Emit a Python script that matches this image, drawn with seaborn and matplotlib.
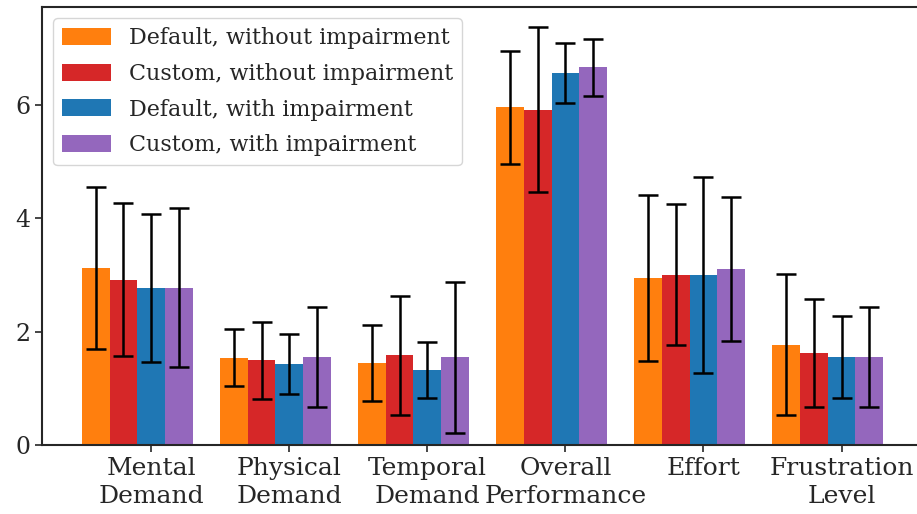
import numpy as np
import pandas as pd
import matplotlib
matplotlib.use("Agg")
import matplotlib.pyplot as plt
import seaborn as sns

# NASA-TLX subscales and study conditions
categories = ["Mental\nDemand", "Physical\nDemand", "Temporal\nDemand",
              "Overall\nPerformance", "Effort", "Frustration\nLevel"]
series = ["Default, without impairment", "Custom, without impairment",
          "Default, with impairment", "Custom, with impairment"]
colors = ["#ff7f0e", "#d62728", "#1f77b4", "#9467bd"]

# mean ratings per condition
mean_default_without = [3.12, 1.54, 1.45, 5.95, 2.94, 1.77]
mean_custom_without = [2.91, 1.49, 1.58, 5.91, 3.00, 1.62]
mean_default_with = [2.77, 1.43, 1.32, 6.55, 3.00, 1.55]
mean_custom_with = [2.77, 1.55, 1.55, 6.66, 3.10, 1.55]

# standard deviations per condition
sd_default_without = [1.43, 0.50, 0.67, 1.00, 1.46, 1.24]
sd_custom_without = [1.35, 0.68, 1.05, 1.45, 1.24, 0.95]
sd_default_with = [1.31, 0.53, 0.50, 0.53, 1.73, 0.72]
sd_custom_with = [1.40, 0.88, 1.33, 0.50, 1.27, 0.88]

means = [mean_default_without, mean_custom_without, mean_default_with, mean_custom_with]
sds = [sd_default_without, sd_custom_without, sd_default_with, sd_custom_with]

rows = []
for s, m in zip(series, means):
    for c, v in zip(categories, m):
        rows.append({"scale": c, "condition": s, "rating": v})
df = pd.DataFrame(rows)

sns.set_theme(style="ticks")
plt.rcParams["font.family"] = ["DejaVu Serif"]
plt.rcParams["axes.edgecolor"] = "#262626"

fig = plt.figure(figsize=(9.17, 5.14), dpi=100)
ax = fig.add_axes([42 / 917, (514 - 445) / 514, (923 - 42) / 917, (445 - 7) / 514])

sns.barplot(data=df, x="scale", y="rating", hue="condition", order=categories,
            hue_order=series, palette=colors, saturation=1, errorbar=None,
            width=0.8, linewidth=0, ax=ax)

# error bars at each bar centre
for container, sd in zip(ax.containers, sds):
    xs = [b.get_x() + b.get_width() / 2 for b in container]
    hs = [b.get_height() for b in container]
    ax.errorbar(xs, hs, yerr=sd, fmt="none", ecolor="black",
                elinewidth=1.8, capsize=7.2, capthick=1.8, zorder=3)

ax.set_xticks(np.arange(len(categories)) + 0.1)
ax.set_xticklabels(categories, fontsize=18, ha="center", linespacing=1.3)
ax.set_xlim(-0.69, 5.69)
ax.set_ylim(0, 7.72)
ax.set_yticks([0, 2, 4, 6])
ax.tick_params(axis="y", labelsize=17, length=5, width=1.2)
ax.tick_params(axis="x", length=5, width=1.2)
ax.set_xlabel("")
ax.set_ylabel("")
for sp in ax.spines.values():
    sp.set_linewidth(1.5)

ax.legend(loc="upper left", fontsize=16, handlelength=2.2, handleheight=0.8,
          labelspacing=0.62, frameon=True, fancybox=True, framealpha=0.8,
          edgecolor="#cccccc")

fig.savefig("out.png", dpi=100)
